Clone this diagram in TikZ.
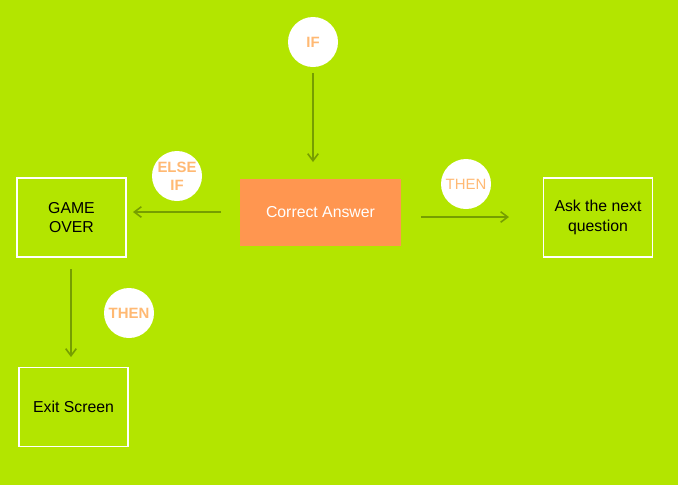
\documentclass[tikz,border=0pt]{standalone}
\usepackage{fontspec}
\setmainfont{Liberation Sans}
\usepackage{tikz}
\usetikzlibrary{arrows.meta}

\definecolor{limebg}{RGB}{179,229,0}
\definecolor{answerorange}{RGB}{255,150,80}
\definecolor{labelorange}{RGB}{255,185,115}
\definecolor{arrowolive}{RGB}{118,158,0}

\tikzset{
    stepbox/.style={draw=white, line width=0.9pt, minimum width=109*0.02cm, minimum height=79*0.02cm, align=center, font=\fontsize{9}{11}\selectfont},
    condcircle/.style={circle, fill=white, minimum size=50*0.02cm, inner sep=0pt, align=center, text=labelorange, font=\fontsize{8.5}{10}\selectfont\bfseries},
    flow/.style={-{Straight Barb[length=4pt,width=6pt]}, draw=arrowolive, line width=0.9pt}
}

\begin{document}
\begin{tikzpicture}[x=0.02cm, y=-0.02cm]
    % Background
    \fill[limebg] (0,0) rectangle (678,485);
    \useasboundingbox (0,0) rectangle (678,485);

    % Main box
    \node[fill=answerorange, minimum width=161*0.02cm, minimum height=67*0.02cm, text=white, font=\fontsize{9}{11}\selectfont] (answer) at (320.5,212.5) {Correct Answer};

    % Outcome boxes
    \node[stepbox] (gameover) at (71.5,217.5) {GAME\\OVER};
    \node[stepbox] (asknext) at (598,217.5) {Ask the next\\question};
    \node[stepbox] (exitscreen) at (73.5,407) {Exit Screen};

    % Conditions
    \node[condcircle] (ifcond) at (313,42) {IF};
    \node[condcircle] (elseif) at (177,176) {ELSE\\IF};
    \node[condcircle, font=\fontsize{8.5}{10}\selectfont] (thenright) at (466,184) {THEN};
    \node[condcircle] (thendown) at (129,313) {THEN};

    % Arrow end points
    \coordinate (ifstart) at (313,73);
    \coordinate (ifend) at (313,162);
    \coordinate (leftstart) at (221,212);
    \coordinate (leftend) at (133,212);
    \coordinate (rightstart) at (421,217);
    \coordinate (rightend) at (509,217);
    \coordinate (downstart) at (71,269);
    \coordinate (downend) at (71,357);

    % Arrows
    \draw[flow] (ifstart) -- (ifend);
    \draw[flow] (leftstart) -- (leftend);
    \draw[flow] (rightstart) -- (rightend);
    \draw[flow] (downstart) -- (downend);
\end{tikzpicture}
\end{document}
